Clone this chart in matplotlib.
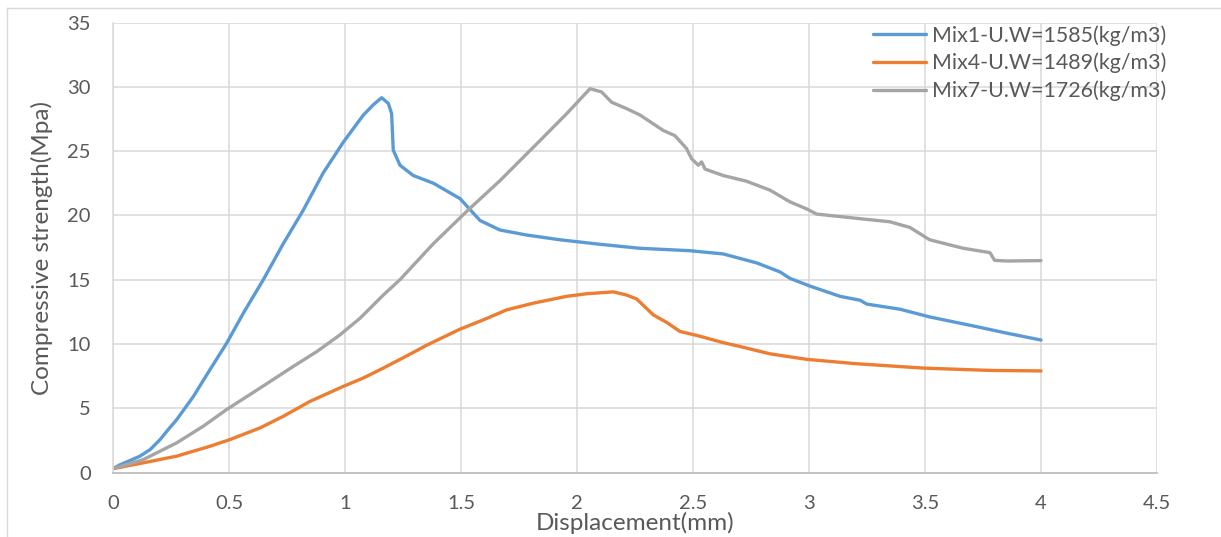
import matplotlib
matplotlib.use("Agg")
import matplotlib.pyplot as plt
from matplotlib.lines import Line2D

# ---- data ----
mix1_x = [0.0, 0.03, 0.073, 0.116, 0.16, 0.203, 0.238, 0.274, 0.346, 0.418, 0.49, 0.562, 0.648,
          0.734, 0.82, 0.906, 0.993, 1.036, 1.079, 1.122, 1.158, 1.187, 1.201, 1.208, 1.237,
          1.294, 1.381, 1.496, 1.582, 1.668, 1.783, 1.927, 2.099, 2.27, 2.487, 2.63, 2.775,
          2.875, 2.918, 3.004, 3.134, 3.22, 3.249, 3.392, 3.52, 3.708, 3.852, 4.0]
mix1_y = [0.3, 0.6, 0.93, 1.27, 1.78, 2.56, 3.34, 4.1, 5.9, 8.0, 10.06, 12.4, 15.0,
          17.8, 20.4, 23.3, 25.7, 26.75, 27.8, 28.6, 29.15, 28.7, 27.9, 25.07, 23.9,
          23.1, 22.5, 21.3, 19.6, 18.86, 18.47, 18.1, 17.75, 17.44, 17.25, 17.0, 16.3,
          15.6, 15.1, 14.5, 13.7, 13.4, 13.1, 12.7, 12.1, 11.4, 10.84, 10.3]

mix4_x = [0.0, 0.13, 0.274, 0.418, 0.504, 0.634, 0.734, 0.849, 0.993, 1.079, 1.165, 1.28,
          1.352, 1.496, 1.596, 1.697, 1.812, 1.955, 2.04, 2.157, 2.214, 2.257, 2.329, 2.387,
          2.444, 2.53, 2.63, 2.703, 2.832, 2.99, 3.205, 3.493, 3.78, 4.0]
mix4_y = [0.3, 0.75, 1.27, 2.04, 2.56, 3.47, 4.37, 5.53, 6.7, 7.35, 8.12, 9.2,
          9.9, 11.15, 11.87, 12.65, 13.17, 13.7, 13.9, 14.05, 13.8, 13.5, 12.26, 11.67,
          10.97, 10.6, 10.1, 9.8, 9.23, 8.8, 8.46, 8.12, 7.94, 7.9]

mix7_x = [0.0, 0.13, 0.274, 0.389, 0.49, 0.634, 0.777, 0.878, 0.978, 1.065, 1.165, 1.237,
          1.381, 1.524, 1.668, 1.812, 1.955, 2.056, 2.106, 2.149, 2.214, 2.272, 2.372, 2.422,
          2.472, 2.494, 2.523, 2.537, 2.552, 2.63, 2.73, 2.832, 2.918, 2.99, 3.033, 3.205,
          3.349, 3.435, 3.52, 3.665, 3.78, 3.80, 3.852, 4.0]
mix7_y = [0.3, 1.0, 2.3, 3.6, 4.9, 6.57, 8.25, 9.4, 10.7, 12.0, 13.8, 15.0,
          17.8, 20.3, 22.7, 25.3, 27.9, 29.85, 29.6, 28.8, 28.3, 27.8, 26.6, 26.2,
          25.2, 24.4, 23.9, 24.16, 23.6, 23.1, 22.66, 21.96, 21.05, 20.5, 20.1, 19.77,
          19.5, 19.06, 18.1, 17.44, 17.1, 16.5, 16.45, 16.48]

labels = ["Mix1-U.W=1585(kg/m3)", "Mix4-U.W=1489(kg/m3)", "Mix7-U.W=1726(kg/m3)"]
colors = ["#5B9BD5", "#ED7D31", "#A5A5A5"]
xticks = [0, 0.5, 1, 1.5, 2, 2.5, 3, 3.5, 4, 4.5]
xtick_labels = ["0", "0.5", "1", "1.5", "2", "2.5", "3", "3.5", "4", "4.5"]
yticks = [0, 5, 10, 15, 20, 25, 30, 35]

plt.rcParams['font.family'] = ['Lato', 'DejaVu Sans']
W, H = 1221, 537
fig = plt.figure(figsize=(W / 100, H / 100), dpi=100)
ax = fig.add_axes([113 / W, 1 - 472.5 / H, (1157 - 113) / W, (472.5 - 22.5) / H])

for xs, ys, c, lab in zip([mix1_x, mix4_x, mix7_x], [mix1_y, mix4_y, mix7_y], colors, labels):
    ax.plot(xs, ys, color=c, lw=2.4, label=lab, solid_capstyle='round', solid_joinstyle='round')

ax.set_xlim(0, 4.5)
ax.set_ylim(0, 35)
ax.set_xticks(xticks)
ax.set_xticklabels(xtick_labels)
ax.set_yticks(yticks)
ax.grid(True, color="#D9D9D9", lw=1.1)
ax.set_axisbelow(True)
for s in ['top', 'right']:
    ax.spines[s].set_visible(False)
ax.spines['left'].set_color("#D9D9D9")
ax.spines['left'].set_linewidth(1.1)
ax.spines['bottom'].set_color("#BFBFBF")
ax.spines['bottom'].set_linewidth(1.3)
ax.tick_params(length=0, labelsize=14.5, labelcolor="#595959")
ax.tick_params(axis='x', pad=16)
ax.tick_params(axis='y', pad=16)

fig.text(635 / W, 1 - 530 / H, "Displacement(mm)", ha='center', va='baseline', fontsize=17.5, color="#595959")
fig.text(42 / W, 1 - 248 / H, "Compressive strength(Mpa)", ha='center', va='center', rotation=90,
         fontsize=17.5, color="#595959")

leg = ax.legend(loc='upper left', bbox_to_anchor=(873 / W, 1 - 25 / H), bbox_transform=fig.transFigure,
                frameon=False, fontsize=15.4, handlelength=2.5, handletextpad=0.28,
                borderpad=0, borderaxespad=0, labelspacing=0.34)
for t in leg.get_texts():
    t.set_color("#595959")

# outer chart border
fig.add_artist(Line2D([7 / W, 7 / W], [0, 1 - 8 / H], transform=fig.transFigure, color="#D9D9D9", lw=1))
fig.add_artist(Line2D([7 / W, 1], [1 - 8 / H, 1 - 8 / H], transform=fig.transFigure, color="#D9D9D9", lw=1))

fig.savefig("out.png", dpi=100)
